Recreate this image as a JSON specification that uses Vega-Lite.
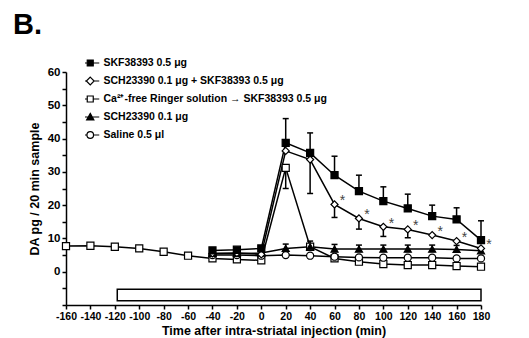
{
  "$schema": "https://vega.github.io/schema/vega-lite/v6.json",
  "width": 415,
  "height": 233,
  "autosize": "none",
  "padding": {"left": 66, "top": 72, "right": 48, "bottom": 33},
  "background": "white",
  "title": {"text": "B.", "anchor": "start", "frame": "group", "dx": -53, "dy": 19, "offset": 4, "fontSize": 29, "fontWeight": "bold", "font": "Liberation Sans", "color": "black", "baseline": "bottom"},
  "config": {
    "view": {"stroke": null},
    "axis": {"domainColor": "black", "domainWidth": 1.5, "tickColor": "black", "tickWidth": 1.5, "tickSize": 4, "grid": false, "labelFont": "Liberation Sans", "labelFontWeight": "bold", "labelColor": "black", "titleFont": "Liberation Sans", "titleFontWeight": "bold", "titleColor": "black", "titleFontSize": 12.5, "labelPadding": 2, "labelOverlap": false}
  },
  "datasets": {
    "main": [
      {"t": -160, "v": 7.7, "s": "c"}, {"t": -140, "v": 7.8, "s": "c"}, {"t": -120, "v": 7.5, "s": "c"}, {"t": -100, "v": 7.0, "s": "c"}, {"t": -80, "v": 6.0, "s": "c"}, {"t": -60, "v": 4.8, "s": "c"}, {"t": -40, "v": 4.0, "s": "c"}, {"t": -20, "v": 3.7, "s": "c"}, {"t": 0, "v": 3.4, "s": "c"}, {"t": 20, "v": 31.2, "s": "c"}, {"t": 40, "v": 7.5, "s": "c"}, {"t": 60, "v": 4.0, "s": "c"}, {"t": 80, "v": 3.0, "s": "c"}, {"t": 100, "v": 2.3, "s": "c"}, {"t": 120, "v": 2.0, "s": "c"}, {"t": 140, "v": 2.0, "s": "c"}, {"t": 160, "v": 1.7, "s": "c"}, {"t": 180, "v": 1.5, "s": "c"},
      {"t": -40, "v": 5.0, "s": "e"}, {"t": -20, "v": 5.0, "s": "e"}, {"t": 0, "v": 4.8, "s": "e"}, {"t": 20, "v": 5.0, "s": "e"}, {"t": 40, "v": 4.8, "s": "e"}, {"t": 60, "v": 4.5, "s": "e"}, {"t": 80, "v": 4.3, "s": "e"}, {"t": 100, "v": 4.2, "s": "e"}, {"t": 120, "v": 4.2, "s": "e"}, {"t": 140, "v": 4.2, "s": "e"}, {"t": 160, "v": 4.0, "s": "e"}, {"t": 180, "v": 4.0, "s": "e"},
      {"t": -40, "v": 5.5, "s": "d"}, {"t": -20, "v": 5.5, "s": "d"}, {"t": 0, "v": 5.6, "s": "d"}, {"t": 20, "v": 7.0, "s": "d"}, {"t": 40, "v": 7.5, "s": "d"}, {"t": 60, "v": 6.8, "s": "d"}, {"t": 80, "v": 6.8, "s": "d"}, {"t": 100, "v": 6.8, "s": "d"}, {"t": 120, "v": 6.8, "s": "d"}, {"t": 140, "v": 6.8, "s": "d"}, {"t": 160, "v": 6.7, "s": "d"}, {"t": 180, "v": 6.3, "s": "d"},
      {"t": -40, "v": 5.5, "s": "b"}, {"t": -20, "v": 5.6, "s": "b"}, {"t": 0, "v": 5.2, "s": "b"}, {"t": 20, "v": 36.3, "s": "b"}, {"t": 40, "v": 33.7, "s": "b"}, {"t": 60, "v": 20.2, "s": "b"}, {"t": 80, "v": 16.0, "s": "b"}, {"t": 100, "v": 13.5, "s": "b"}, {"t": 120, "v": 12.7, "s": "b"}, {"t": 140, "v": 11.0, "s": "b"}, {"t": 160, "v": 9.2, "s": "b"}, {"t": 180, "v": 7.0, "s": "b"},
      {"t": -40, "v": 6.4, "s": "a"}, {"t": -20, "v": 6.6, "s": "a"}, {"t": 0, "v": 7.0, "s": "a"}, {"t": 20, "v": 38.7, "s": "a"}, {"t": 40, "v": 35.7, "s": "a"}, {"t": 60, "v": 29.0, "s": "a"}, {"t": 80, "v": 24.2, "s": "a"}, {"t": 100, "v": 21.2, "s": "a"}, {"t": 120, "v": 19.0, "s": "a"}, {"t": 140, "v": 16.7, "s": "a"}, {"t": 160, "v": 15.7, "s": "a"}, {"t": 180, "v": 9.5, "s": "a"}
    ],
    "err": [
      {"t": 20, "v0": 38.7, "v": 46.0}, {"t": 40, "v0": 35.7, "v": 41.7}, {"t": 60, "v0": 29.0, "v": 34.7}, {"t": 80, "v0": 24.2, "v": 29.0}, {"t": 100, "v0": 21.2, "v": 25.5}, {"t": 120, "v0": 19.0, "v": 23.3}, {"t": 140, "v0": 16.7, "v": 20.0}, {"t": 160, "v0": 15.7, "v": 19.2}, {"t": 180, "v0": 9.5, "v": 15.3},
      {"t": 40, "v0": 33.7, "v": 23.5}, {"t": 60, "v0": 20.2, "v": 16.3}, {"t": 80, "v0": 16.0, "v": 12.8}, {"t": 100, "v0": 13.5, "v": 10.6}, {"t": 120, "v0": 12.7, "v": 10.2},
      {"t": 20, "v0": 31.2, "v": 25.0},
      {"t": 20, "v0": 7.0, "v": 8.3}, {"t": 40, "v0": 7.5, "v": 9.2}, {"t": 60, "v0": 6.8, "v": 8.2}, {"t": 80, "v0": 6.8, "v": 8.0}, {"t": 100, "v0": 6.8, "v": 8.0}, {"t": 120, "v0": 6.8, "v": 8.0}, {"t": 140, "v0": 6.8, "v": 8.0}, {"t": 160, "v0": 6.7, "v": 7.9}
    ],
    "stars": [
      {"t": 60, "v": 20.2, "lab": "*"}, {"t": 80, "v": 16.0, "lab": "*"}, {"t": 100, "v": 13.5, "lab": "*"}, {"t": 120, "v": 12.7, "lab": "*"}, {"t": 140, "v": 11.0, "lab": "*"}, {"t": 160, "v": 9.2, "lab": "*"}, {"t": 180, "v": 7.0, "lab": "*"}
    ],
    "bar": [{"t": -118, "t2": 180, "v": -5.3, "v2": -8.7}]
  },
  "encoding": {
    "x": {"field": "t", "type": "quantitative", "scale": {"domain": [-160, 180], "nice": false, "zero": false},
          "axis": {"values": [-160,-140,-120,-100,-80,-60,-40,-20,0,20,40,60,80,100,120,140,160,180], "labelExpr": "datum.value + ''", "labelOverlap": false, "title": "Time after intra-striatal injection (min)", "labelFontSize": 10.5, "titlePadding": 3, "labelFlush": false}},
    "y": {"field": "v", "type": "quantitative", "scale": {"domain": [-10, 60], "nice": false, "zero": false},
          "axis": {"values": [-10,-5,0,5,10,15,20,25,30,35,40,45,50,55,60], "labelExpr": "datum.value >= 0 && datum.value % 10 == 0 ? datum.value + '' : ''", "labelOverlap": false, "title": "DA pg / 20 min sample", "labelFontSize": 11.5, "titlePadding": 6, "labelFlush": false}}
  },
  "resolve": {"scale": {"shape": "independent", "fill": "independent", "stroke": "independent"}},
  "layer": [
    {
      "data": {"name": "bar"},
      "mark": {"type": "rect", "fill": "white", "stroke": "black", "strokeWidth": 1.5},
      "encoding": {"x2": {"field": "t2"}, "y2": {"field": "v2"}}
    },
    {
      "data": {"name": "err"},
      "mark": {"type": "rule", "stroke": "black", "strokeWidth": 1.5},
      "encoding": {"y2": {"field": "v0"}}
    },
    {
      "data": {"name": "err"},
      "mark": {"type": "tick", "orient": "horizontal", "color": "black", "size": 6, "thickness": 1.5, "opacity": 1},
      "encoding": {}
    },
    {
      "data": {"name": "main"},
      "mark": {"type": "line", "stroke": "black", "strokeWidth": 1.5},
      "encoding": {"detail": {"field": "s"}}
    },
    {
      "data": {"name": "main"},
      "mark": {"type": "point", "filled": true, "stroke": "black", "strokeWidth": 1.2, "size": 50, "opacity": 1},
      "encoding": {
        "shape": {"field": "s", "type": "nominal", "scale": {"domain": ["a","b","c","d","e"], "range": ["square","diamond","square","triangle-up","circle"]}, "legend": null},
        "fill": {"field": "s", "type": "nominal", "scale": {"domain": ["a","b","c","d","e"], "range": ["black","white","white","black","white"]}, "legend": null}
      }
    },
    {
      "data": {"name": "main"},
      "transform": [{"filter": "false"}],
      "mark": {"type": "point", "filled": true, "strokeWidth": 1.2, "opacity": 1},
      "encoding": {
        "shape": {"field": "s", "type": "nominal", "scale": {"domain": ["a","b","c","d","e"], "range": ["M-3,0H-1M1,0H3M-1,-1H1V1H-1Z", "M-3,0H-1.3M1.3,0H3M0,-1.3L1.3,0L0,1.3L-1.3,0Z", "M-3,0H-1M1,0H3M-1,-1H1V1H-1Z", "M-3,0H3M0,-1.2L1.2,1H-1.2Z", "M-3,0H-1.1M1.1,0H3M1.1,0A1.1,1.1,0,1,1,-1.1,0A1.1,1.1,0,1,1,1.1,0Z"]},
          "legend": {"title": null, "orient": "none", "legendX": 19, "legendY": -18, "padding": 0, "clipHeight": 18, "rowPadding": 0, "symbolSize": 36, "symbolOpacity": 1, "symbolStrokeWidth": 1.2, "labelOffset": 8, "labelFont": "Liberation Sans", "labelFontWeight": "bold", "labelFontSize": 10.5, "labelColor": "black", "labelLimit": 400,
            "labelExpr": "{'a':'SKF38393 0.5 μg','b':'SCH23390 0.1 μg + SKF38393 0.5 μg','c':'Ca²⁺-free Ringer solution → SKF38393 0.5 μg','d':'SCH23390 0.1 μg','e':'Saline 0.5 μl'}[datum.value]"}},
        "fill": {"field": "s", "type": "nominal", "scale": {"domain": ["a","b","c","d","e"], "range": ["black","white","white","black","white"]},
          "legend": {"title": null, "orient": "none", "legendX": 19, "legendY": -18, "padding": 0, "clipHeight": 18, "rowPadding": 0, "symbolSize": 36, "symbolOpacity": 1, "symbolStrokeWidth": 1.2, "labelOffset": 8, "labelFont": "Liberation Sans", "labelFontWeight": "bold", "labelFontSize": 10.5, "labelColor": "black", "labelLimit": 400,
            "labelExpr": "{'a':'SKF38393 0.5 μg','b':'SCH23390 0.1 μg + SKF38393 0.5 μg','c':'Ca²⁺-free Ringer solution → SKF38393 0.5 μg','d':'SCH23390 0.1 μg','e':'Saline 0.5 μl'}[datum.value]"}},
        "stroke": {"field": "s", "type": "nominal", "scale": {"domain": ["a","b","c","d","e"], "range": ["black","black","black","black","black"]},
          "legend": {"title": null, "orient": "none", "legendX": 19, "legendY": -18, "padding": 0, "clipHeight": 18, "rowPadding": 0, "symbolSize": 36, "symbolOpacity": 1, "symbolStrokeWidth": 1.2, "labelOffset": 8, "labelFont": "Liberation Sans", "labelFontWeight": "bold", "labelFontSize": 10.5, "labelColor": "black", "labelLimit": 400,
            "labelExpr": "{'a':'SKF38393 0.5 μg','b':'SCH23390 0.1 μg + SKF38393 0.5 μg','c':'Ca²⁺-free Ringer solution → SKF38393 0.5 μg','d':'SCH23390 0.1 μg','e':'Saline 0.5 μl'}[datum.value]"}}
      }
    },
    {
      "data": {"name": "stars"},
      "mark": {"type": "text", "dx": 8, "dy": -3, "baseline": "middle", "fontSize": 14, "font": "Liberation Sans", "color": "#444444"},
      "encoding": {"text": {"field": "lab"}}
    }
  ]
}
